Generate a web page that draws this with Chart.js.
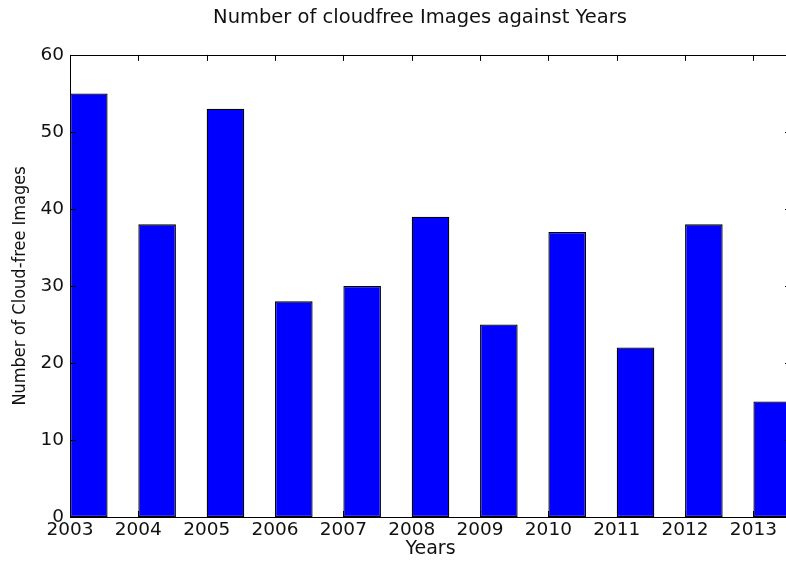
<!DOCTYPE html>
<html>
<head>
<meta charset="utf-8">
<script src="https://cdn.jsdelivr.net/npm/chart.js@4/dist/chart.umd.min.js"></script>
<style>
  html, body { margin: 0; padding: 0; background: #fff; overflow: hidden; }
  canvas { display: block; }
</style>
</head>
<body>
<canvas id="chart" width="840" height="561"></canvas>
<script>
// cloud-free scenes per year
const years = [2003, 2004, 2005, 2006, 2007, 2008, 2009, 2010, 2011, 2012, 2013];
const counts = [55, 38, 53, 28, 30, 39, 25, 37, 22, 38, 15];
const yTicks = [0, 10, 20, 30, 40, 50, 60];

const barWidth = 0.55; // in years, bars start at the year tick

// box around the plot with inward tick marks on every side
const frame = {
  id: "frame",
  afterDatasetsDraw(chart) {
    const { ctx, chartArea: a, scales } = chart;
    const x = scales.x, y = scales.y;
    const len = 6;
    ctx.save();
    ctx.strokeStyle = "#000";
    ctx.lineWidth = 1;
    ctx.beginPath();
    years.forEach(v => {
      const px = Math.round(x.getPixelForValue(v)) + 0.5;
      ctx.moveTo(px, a.bottom); ctx.lineTo(px, a.bottom - len);
      ctx.moveTo(px, a.top); ctx.lineTo(px, a.top + len);
    });
    yTicks.forEach(v => {
      const py = Math.round(y.getPixelForValue(v)) + 0.5;
      ctx.moveTo(a.left, py); ctx.lineTo(a.left + len, py);
      ctx.moveTo(a.right, py); ctx.lineTo(a.right - len, py);
    });
    ctx.stroke();
    ctx.strokeRect(Math.round(a.left) + 0.5, Math.round(a.top) + 0.5,
                   Math.round(a.right - a.left), Math.round(a.bottom - a.top));
    ctx.restore();
  }
};

new Chart(document.getElementById("chart"), {
  type: "bar",
  data: {
    datasets: [{
      data: years.map((yr, i) => ({ x: yr + barWidth / 2, y: counts[i] })),
      backgroundColor: "#0000ff",
      borderColor: "#000",
      borderWidth: 1.3,
      borderSkipped: false,
      categoryPercentage: barWidth,
      barPercentage: 1
    }]
  },
  options: {
    responsive: false,
    animation: false,
    plugins: {
      legend: { display: false },
      tooltip: { enabled: false },
      title: {
        display: true,
        text: "Number of cloudfree Images against Years",
        color: "#111",
        font: { family: "DejaVu Sans", size: 19.5, weight: "normal" },
        padding: { top: 6.5, bottom: 25 }
      }
    },
    scales: {
      x: {
        type: "linear",
        offset: false,
        min: years[0],
        max: years[years.length - 1] + barWidth,
        grid: { display: false, drawTicks: false },
        border: { display: false },
        afterBuildTicks: s => { s.ticks = years.map(v => ({ value: v })); },
        afterFit: s => { s.height = 44; },
        ticks: {
          color: "#111",
          padding: 2,
          maxRotation: 0,
          autoSkip: false,
          font: { family: "DejaVu Sans", size: 18.5 },
          callback: v => String(v)
        },
        title: {
          display: true,
          text: "Years",
          color: "#111",
          font: { family: "DejaVu Sans", size: 19 },
          padding: { top: 0, bottom: 1 }
        }
      },
      y: {
        min: 0,
        max: 60,
        grid: { display: false, drawTicks: false },
        border: { display: false },
        afterBuildTicks: s => { s.ticks = yTicks.map(v => ({ value: v })); },
        afterFit: s => { s.width = 70; },
        ticks: {
          color: "#111",
          padding: 6,
          font: { family: "DejaVu Sans", size: 18.5 }
        },
        title: {
          display: true,
          text: "Number of Cloud-free Images",
          color: "#111",
          font: { family: "DejaVu Sans Condensed", size: 18 },
          padding: { top: 10, bottom: 0 }
        }
      },
      // empty right-hand axis, only reserves the margin past the plot
      y2: {
        position: "right",
        min: 0,
        max: 60,
        grid: { display: false, drawTicks: false },
        border: { display: false },
        ticks: { display: false },
        afterFit: s => { s.width = 49; }
      }
    }
  },
  plugins: [frame]
});
</script>
</body>
</html>
